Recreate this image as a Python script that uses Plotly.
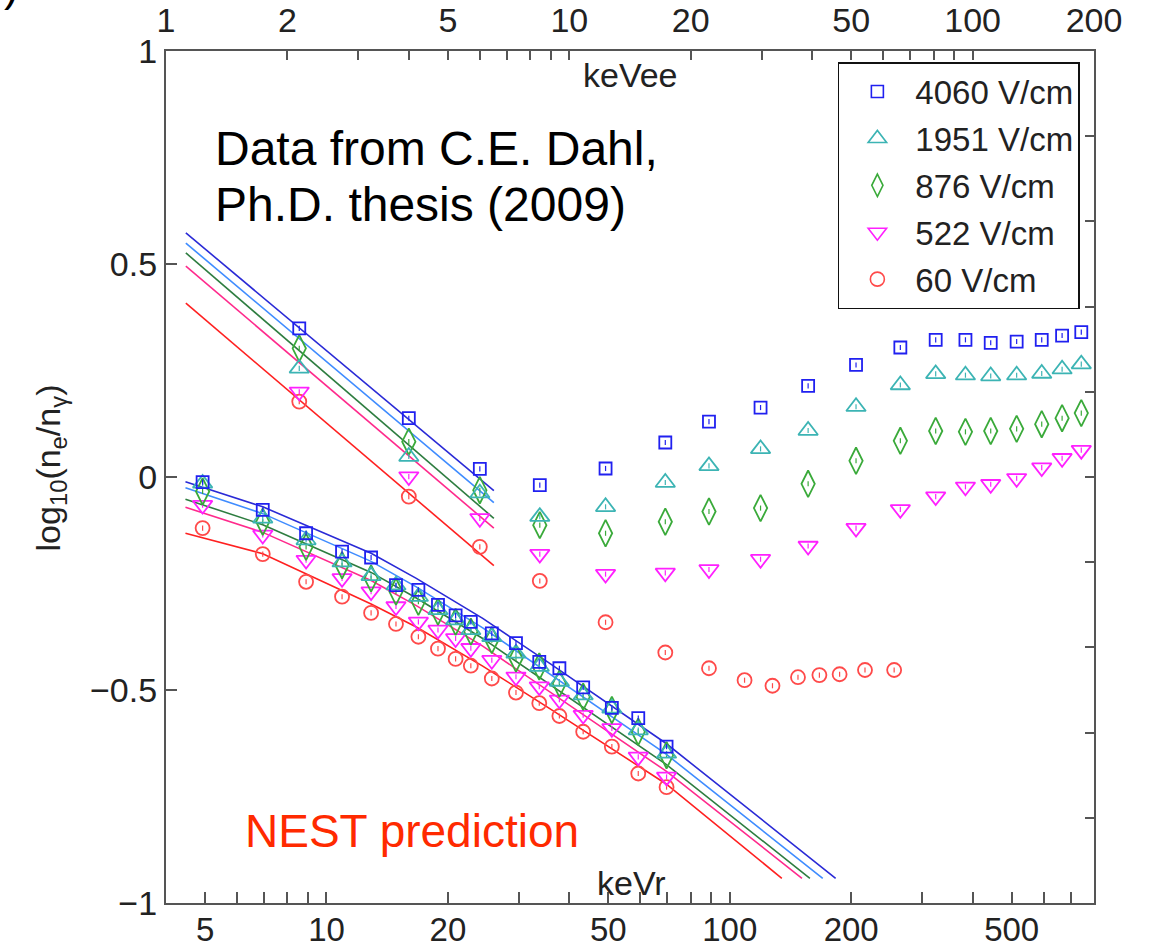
import plotly.graph_objects as go
import math

# ---------------- data ----------------
fields = ["4060 V/cm", "1951 V/cm", "876 V/cm", "522 V/cm", "60 V/cm"]

# Electron recoils, plotted against keVee (top axis)
er_x_low = [2.14, 4.0, 6.0]
er_low_y = {
    "4060 V/cm": [0.349, 0.138, 0.019],
    "1951 V/cm": [0.255, 0.048, -0.038],
    "876 V/cm": [0.302, 0.083, -0.031],
    "522 V/cm": [0.200, 0.001, -0.097],
    "60 V/cm": [0.177, -0.046, -0.164],
}
er_x_high = [8.45, 12.3, 17.3, 22.2, 29.8, 39.1, 51.4, 66.2, 81.0, 96.0, 110.9, 128.6, 148.4, 166.7, 186.0]
er_high_y = {
    "4060 V/cm": [-0.019, 0.020, 0.081, 0.130, 0.163, 0.214, 0.263, 0.304, 0.322, 0.322, 0.315, 0.318, 0.322, 0.332, 0.340],
    "1951 V/cm": [-0.093, -0.070, -0.013, 0.026, 0.066, 0.109, 0.165, 0.216, 0.242, 0.239, 0.237, 0.239, 0.243, 0.253, 0.265],
    "876 V/cm": [-0.113, -0.132, -0.105, -0.081, -0.073, -0.016, 0.038, 0.085, 0.108, 0.106, 0.108, 0.113, 0.124, 0.138, 0.150],
    "522 V/cm": [-0.181, -0.228, -0.225, -0.217, -0.193, -0.162, -0.120, -0.076, -0.046, -0.023, -0.017, -0.003, 0.022, 0.044, 0.063],
}
er60_x_high = [8.45, 12.3, 17.3, 22.2, 27.2, 31.9, 36.9, 41.7, 46.8, 54.1, 63.9]
er60_y_high = [-0.244, -0.341, -0.412, -0.449, -0.477, -0.490, -0.470, -0.465, -0.463, -0.453, -0.453]

# NEST ER prediction lines (keVee)
er_line_x = [1.12, 6.5]
er_line_y = {
    "4060 V/cm": [0.573, -0.032],
    "1951 V/cm": [0.549, -0.060],
    "876 V/cm": [0.526, -0.097],
    "522 V/cm": [0.495, -0.120],
    "60 V/cm": [0.408, -0.208],
}

# Nuclear recoils, plotted against keVr (bottom axis)
nr_x = [4.93, 6.95, 8.9, 10.93, 12.9, 14.87, 16.9, 18.9, 20.9, 22.8, 25.7, 29.5, 33.7, 37.8, 43.3, 51.0, 59.3, 69.7]
nr_y = {
    "4060 V/cm": [-0.012, -0.077, -0.132, -0.175, -0.189, -0.254, -0.265, -0.300, -0.325, -0.340, -0.367, -0.390, -0.434, -0.449, -0.494, -0.542, -0.566, -0.633],
    "1951 V/cm": [-0.015, -0.097, -0.148, -0.200, -0.232, -0.254, -0.281, -0.312, -0.336, -0.359, -0.375, -0.414, -0.445, -0.480, -0.512, -0.543, -0.594, -0.649],
    "876 V/cm": [-0.034, -0.105, -0.164, -0.207, -0.238, -0.269, -0.293, -0.316, -0.340, -0.363, -0.383, -0.426, -0.445, -0.485, -0.516, -0.547, -0.598, -0.653],
    "522 V/cm": [-0.066, -0.136, -0.195, -0.238, -0.269, -0.304, -0.340, -0.359, -0.379, -0.402, -0.430, -0.469, -0.492, -0.523, -0.559, -0.590, -0.657, -0.704],
    "60 V/cm": [-0.120, -0.181, -0.246, -0.281, -0.319, -0.345, -0.375, -0.403, -0.427, -0.443, -0.473, -0.506, -0.531, -0.561, -0.598, -0.633, -0.696, -0.728],
}

# NEST NR prediction lines (keVr)
nr_line = {
    "4060 V/cm": ([4.47, 6.95, 12.9, 16.7, 24.4, 35.7, 69.4, 183.0], [-0.011, -0.070, -0.179, -0.238, -0.332, -0.437, -0.625, -0.942]),
    "1951 V/cm": ([4.47, 6.95, 12.9, 16.7, 24.4, 35.7, 69.4, 170.0], [-0.025, -0.086, -0.198, -0.258, -0.354, -0.461, -0.650, -0.942]),
    "876 V/cm": ([4.47, 6.95, 12.9, 16.7, 24.4, 35.7, 69.4, 158.0], [-0.052, -0.112, -0.224, -0.284, -0.379, -0.486, -0.674, -0.942]),
    "522 V/cm": ([4.47, 6.95, 12.9, 16.7, 24.4, 35.7, 69.4, 151.0], [-0.071, -0.130, -0.243, -0.302, -0.397, -0.503, -0.690, -0.942]),
    "60 V/cm": ([4.47, 6.95, 12.9, 16.7, 24.4, 35.7, 69.4, 134.6], [-0.132, -0.180, -0.298, -0.352, -0.444, -0.543, -0.720, -0.942]),
}

bottom_ticks = [5, 6, 7, 8, 9, 10, 20, 30, 40, 50, 60, 70, 80, 90, 100, 200, 300, 400, 500, 600, 700]
bottom_labels = ["5", "10", "20", "50", "100", "200", "500"]
top_ticks = [1, 2, 3, 4, 5, 6, 7, 8, 9, 10, 20, 30, 40, 50, 60, 70, 80, 90, 100, 200]
top_labels = ["1", "2", "5", "10", "20", "50", "100", "200"]
left_ticks = [-1, -0.5, 0, 0.5, 1]
left_labels = ["\u22121", "\u22120.5", "0", "0.5", "1"]

# ---------------- styles ----------------
marker_color = {
    "4060 V/cm": "#2020f0",
    "1951 V/cm": "#3cb4b4",
    "876 V/cm": "#3aaa3a",
    "522 V/cm": "#ff20ff",
    "60 V/cm": "#ff4a4a",
}
marker_symbol = {
    "4060 V/cm": "square-open",
    "1951 V/cm": "triangle-up-open",
    "876 V/cm": "diamond-tall-open",
    "522 V/cm": "triangle-down-open",
    "60 V/cm": "circle-open",
}
marker_size = {
    "4060 V/cm": 12,
    "1951 V/cm": 17,
    "876 V/cm": 19,
    "522 V/cm": 17,
    "60 V/cm": 14,
}
line_color = {
    "4060 V/cm": "#2a2ad6",
    "1951 V/cm": "#3f8cff",
    "876 V/cm": "#2e7d40",
    "522 V/cm": "#ff2a8c",
    "60 V/cm": "#ff2020",
}

FONT = "Liberation Sans, Arial, sans-serif"
TXT = "#222222"

fig = go.Figure()

# prediction lines
for f in fields:
    fig.add_trace(go.Scatter(x=er_line_x, y=er_line_y[f], mode="lines", xaxis="x2", yaxis="y",
                             line=dict(color=line_color[f], width=1.6), showlegend=False, hoverinfo="skip"))
    lx, ly = nr_line[f]
    fig.add_trace(go.Scatter(x=lx, y=ly, mode="lines", xaxis="x", yaxis="y",
                             line=dict(color=line_color[f], width=1.6), showlegend=False, hoverinfo="skip"))


def mk(f):
    return dict(symbol=marker_symbol[f], size=marker_size[f], color=marker_color[f],
                line=dict(color=marker_color[f], width=1.8))


err = dict(type="constant", value=0.006, thickness=1.2, width=0)

# data markers, drawn from low field to high so that blue sits on top
for f in reversed(fields):
    ex = er_x_low + (er_x_high if f != "60 V/cm" else er60_x_high)
    ey = er_low_y[f] + (er_high_y[f] if f != "60 V/cm" else er60_y_high)
    fig.add_trace(go.Scatter(x=ex, y=ey, mode="markers", xaxis="x2", yaxis="y",
                             marker=mk(f), error_y=dict(err, color=marker_color[f]),
                             showlegend=False))
    fig.add_trace(go.Scatter(x=nr_x, y=nr_y[f], mode="markers", xaxis="x", yaxis="y",
                             marker=mk(f), error_y=dict(err, color=marker_color[f]),
                             showlegend=False))

# legend entries
for f in fields:
    fig.add_trace(go.Scatter(x=[None], y=[None], mode="markers", xaxis="x", yaxis="y", name=f,
                             marker=dict(symbol=marker_symbol[f], size=marker_size[f], color=marker_color[f],
                                         line=dict(color=marker_color[f], width=1.6)),
                             legendgroup=f, showlegend=True))

# dummy trace so the right-hand axis is drawn
fig.add_trace(go.Scatter(x=[None], y=[None], xaxis="x", yaxis="y2", showlegend=False))

axis_line = dict(showline=True, linecolor="#555555", linewidth=2.2, showgrid=False,
                 zeroline=False, automargin=False)
tickfont = dict(family=FONT, size=34, color=TXT)

fig.update_layout(
    width=1149, height=951,
    margin=dict(l=166, r=55, t=51, b=48),
    paper_bgcolor="white", plot_bgcolor="white",
    showlegend=True,
    legend=dict(x=0.724, y=0.987, xanchor="left", yanchor="top",
                bgcolor="white", bordercolor="#111111", borderwidth=1.5,
                font=dict(family=FONT, size=33, color=TXT),
                traceorder="grouped", tracegroupgap=1, itemwidth=66),
    xaxis=dict(type="log", range=[math.log10(4), math.log10(800)], side="bottom", anchor="y",
               ticks="inside", ticklen=11, tickwidth=1.8, tickcolor="#555555",
               tickvals=bottom_ticks,
               ticktext=[str(v) if str(v) in bottom_labels else "" for v in bottom_ticks],
               tickfont=dict(family=FONT, size=33, color=TXT), ticklabelstandoff=-4, **axis_line),
    xaxis2=dict(type="log", range=[0, math.log10(200)], side="top", overlaying="x", anchor="y",
                ticks="inside", ticklen=9, tickwidth=1.8, tickcolor="#555555",
                tickvals=top_ticks,
                ticktext=[str(v) if str(v) in top_labels else "" for v in top_ticks],
                tickfont=tickfont, ticklabelstandoff=3, **axis_line),
    yaxis=dict(range=[-1, 1], side="left", ticks="inside", ticklen=11, tickwidth=1.8,
               tickcolor="#555555", tickvals=left_ticks, ticktext=left_labels,
               tickfont=tickfont, **axis_line),
    yaxis2=dict(range=[-1, 1], side="right", overlaying="y", anchor="x", ticks="inside",
                ticklen=9, tickwidth=1.8, tickcolor="#555555", dtick=0.2,
                showticklabels=False, **axis_line),
)

ann_font = dict(family=FONT, size=34, color=TXT)
fig.add_annotation(xref="paper", yref="paper", x=0.5, y=0.972, text="keVee", showarrow=False,
                   font=ann_font, xanchor="center", yanchor="middle")
fig.add_annotation(xref="paper", yref="paper", x=0.502, y=0.024, text="keVr", showarrow=False,
                   font=ann_font, xanchor="center", yanchor="middle")
fig.add_annotation(xref="paper", yref="paper", x=0.051, y=0.886,
                   text="Data from C.E. Dahl,", showarrow=False, align="left",
                   font=dict(family=FONT, size=48, color="#000000"), xanchor="left", yanchor="middle")
fig.add_annotation(xref="paper", yref="paper", x=0.051, y=0.820,
                   text="Ph.D. thesis (2009)", showarrow=False, align="left",
                   font=dict(family=FONT, size=48, color="#000000"), xanchor="left", yanchor="middle")
fig.add_annotation(xref="paper", yref="paper", x=0.083, y=0.085, text="NEST prediction",
                   showarrow=False, font=dict(family=FONT, size=46, color="#ff2a00"),
                   xanchor="left", yanchor="middle")
fig.add_annotation(xref="paper", yref="paper", x=-0.125, y=0.51,
                   text="log<sub>10</sub>(n<sub>e</sub>/n<sub>\u03b3</sub>)", textangle=-90,
                   showarrow=False, font=ann_font, xanchor="center", yanchor="middle")
# cropped glyph at the very top-left corner of the original image
fig.add_annotation(xref="paper", yref="paper", x=-0.166, y=1.046, text=")", showarrow=False,
                   font=dict(family=FONT, size=44, color="#000000"), xanchor="center", yanchor="bottom")

fig.write_html("out.html")
